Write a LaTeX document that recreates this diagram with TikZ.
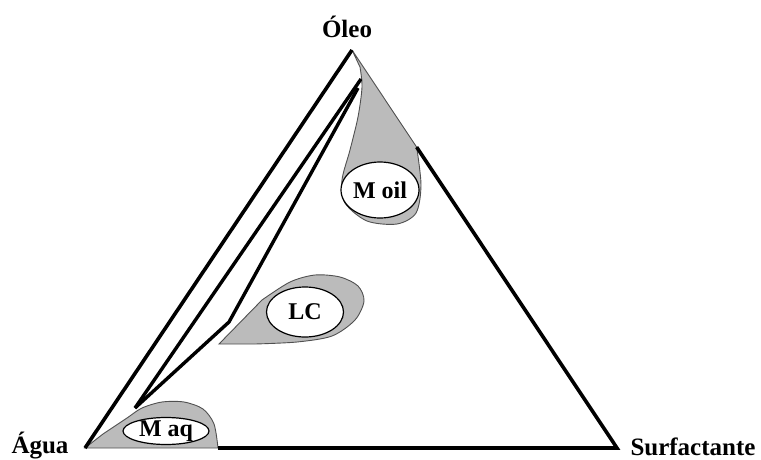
\documentclass[tikz,border=0pt]{standalone}
\usepackage{fontspec}
\setmainfont{Liberation Serif}
\usetikzlibrary{shapes.geometric, calc}
\definecolor{phase}{RGB}{187,187,187}
\definecolor{rim}{RGB}{80,80,80}

\begin{document}
\begin{tikzpicture}[x=1pt,y=-1pt,
  lbl/.style={font=\bfseries\fontsize{25}{29}\selectfont,anchor=base,inner sep=0pt},
  side/.style={line width=3.6pt},
  tie/.style={line width=3.4pt},
  region/.style={fill=phase,draw=rim,line width=0.9pt},
  blob/.style={draw,ellipse,fill=white,line width=1.2pt,inner sep=0pt,
              label={[font=\bfseries\fontsize{24}{28}\selectfont]center:#1}}
]
\useasboundingbox (0,0) rectangle (761,459);

% corners of the diagram
\coordinate (O) at (352,50);
\coordinate (A) at (85,448);
\coordinate (S) at (617,448);
\coordinate (oilR) at ($(O)!0.244!(S)$);
\coordinate (aqR)  at ($(A)!0.25!(S)$);
\coordinate (lcT)  at (219,344);
\coordinate (j1) at (135,408);
\coordinate (j2) at (229,322);
\coordinate (t1) at (361,79);
\coordinate (t2) at (358,88);

% phase regions
\draw[region] (O) -- plot[smooth] coordinates {(oilR) (421,185) (416,213) (397,224)
  (367,221) (345,203) (342,180) (350,150) (358,117) (362,87) (360,67)} -- cycle;
\draw[region] (A) -- plot[smooth] coordinates {(103,434) (127,418) (142,408) (162,402)
  (184,402) (203,409) (214,424) (aqR)} -- cycle;
\draw[region] (lcT) -- plot[smooth] coordinates {(262,300) (290,282) (315,275) (340,277)
  (358,286) (364,301) (355,320) (332,336) (297,342) (255,344)} -- cycle;

% triangle
\draw[side] (aqR) -- (S) -- (oilR);
\draw[side] (A) -- (O);

% tie lines
\draw[tie] (j1) -- (t1);
\draw[tie] (j1) -- (j2) -- (t2);

\node[blob=M oil, minimum width=78pt, minimum height=56pt] (moil) at (380,190) {};
\node[blob=LC,    minimum width=77pt, minimum height=50pt] (lc)   at (305,312) {};
\node[blob=M aq,  minimum width=86pt, minimum height=27pt] (maq)  at (166,431) {};

\node[lbl] (oleo) at (347,37)  {Óleo};
\node[lbl] (agua) at (40,453)  {Água};
\node[lbl] (surf) at (693,455) {Surfactante};
\end{tikzpicture}
\end{document}
